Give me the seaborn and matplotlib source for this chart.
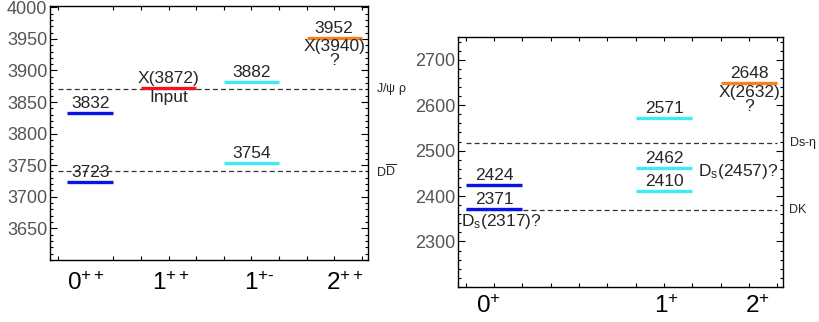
import matplotlib
matplotlib.use("Agg")
import matplotlib.pyplot as plt
from matplotlib.ticker import MultipleLocator
import seaborn as sns

# ---- data ----
# charmonium-like sector (left)
left_cats = ["0++", "1++", "1+-", "2++"]
left_cat_labels = [r"$0^{++}$", r"$1^{++}$", r"$1^{+\text{-}}$", r"$2^{++}$"]
left_jpc = ["0++", "0++", "1++", "1+-", "1+-", "2++"]
left_masses = [3723, 3832, 3872, 3754, 3882, 3952]
left_colors = ["#0a14e6", "#0a14e6", "#f0141e", "#40eaf5", "#40eaf5", "#f5821e"]
left_below = ["", "", "Input", "", "", "X(3940)\n?"]
left_above = ["3723", "3832", "X(3872)", "3754", "3882", "3952"]
left_thr = [3870, 3740]
left_thr_labels = [r"J/$\psi$ $\rho$", r"D$\overline{\mathrm{D}}$"]

# Ds sector (right)
right_cats = ["0+", "1+", "2+"]
right_cat_labels = [r"$0^{+}$", r"$1^{+}$", r"$2^{+}$"]
right_jp = ["0+", "0+", "1+", "1+", "1+", "2+"]
right_masses = [2371, 2424, 2410, 2462, 2571, 2648]
right_colors = ["#0a14e6", "#0a14e6", "#40eaf5", "#40eaf5", "#40eaf5", "#f5821e"]
right_above = ["2371", "2424", "2410", "2462", "2571", "2648"]
right_below = ["", "", "", "", "", "X(2632)\n?"]
right_thr = [2370, 2516]
right_thr_labels = ["DK", r"Ds-$\eta$"]

# ---- layout (x positions in tick units) ----
left_span = {"0++": (0.33, 2.0), "1++": (3, 5), "1+-": (6, 8), "2++": (9, 11)}
left_tick = [1.0, 4.1, 7.3, 10.4]
right_span = {"0+": (0, 2), "1+": (6, 8), "2+": (9, 11)}
right_tick = [0.8, 7.1, 10.3]

sns.set_theme(style="ticks")
plt.rcParams["font.family"] = ["Liberation Sans", "DejaVu Sans"]
plt.rcParams["mathtext.fontset"] = "custom"
plt.rcParams["mathtext.rm"] = "Liberation Sans"
plt.rcParams["mathtext.it"] = "Liberation Sans:italic"
plt.rcParams["mathtext.default"] = "rm"

LABEL_FS = 12.5

fig = plt.figure(figsize=(8.2, 3.22), dpi=100)
ax1 = fig.add_axes([0.061, 0.193, 0.388, 0.788])
ax2 = fig.add_axes([0.5585, 0.109, 0.3965, 0.776])


def style_axes(ax, ylim, yminor, xlim, ticks, labels, labpad, ylabels):
    ax.yaxis.set_minor_locator(MultipleLocator(yminor))
    ax.set_yticks(ylabels)
    ax.set_ylim(*ylim)
    ax.set_xlim(*xlim)
    ax.set_xticks(ticks)
    ax.set_xticklabels(labels, fontsize=17.5, color="black")
    ax.xaxis.set_minor_locator(MultipleLocator(1))
    ax.tick_params(axis="x", which="major", length=0, pad=labpad)
    ax.tick_params(axis="x", which="minor", direction="in", length=3,
                   top=True, bottom=True, width=0.8, color="black")
    ax.tick_params(axis="y", which="major", direction="in", length=5,
                   left=True, right=True, labelsize=13, labelcolor="#555555",
                   width=0.8, color="black", pad=2)
    ax.tick_params(axis="y", which="minor", direction="in", length=2.5,
                   left=True, right=True, width=0.8, color="black")
    for s in ax.spines.values():
        s.set_color("black")
        s.set_linewidth(1.0)


def draw_levels(ax, cats, masses, colors, above, below, span):
    for c, m, col, a, b in zip(cats, masses, colors, above, below):
        x0, x1 = span[c]
        ax.hlines(m, x0, x1, colors=col, linewidth=2.4, zorder=3)
        xc = (x0 + x1) / 2
        if a:
            ax.annotate(a, (xc, m), xytext=(0, 1.5), textcoords="offset points",
                        ha="center", va="bottom", fontsize=LABEL_FS, zorder=4)
        if b:
            ax.annotate(b, (xc, m), xytext=(0, -1), textcoords="offset points",
                        ha="center", va="top", fontsize=LABEL_FS, zorder=4,
                        linespacing=0.9)


def draw_thresholds(ax, thr, labels, x0, x1, xlab):
    for t, lab in zip(thr, labels):
        ax.hlines(t, x0, x1, colors="#333333", linestyles=(0, (4, 2.5)),
                  linewidth=0.9, zorder=2)
        ax.text(xlab, t, lab, ha="left", va="center", fontsize=9,
                clip_on=False)


# left panel
style_axes(ax1, (3600, 4002), 10, (-0.29, 11.23), left_tick, left_cat_labels,
           9, list(range(3650, 4001, 50)))
draw_thresholds(ax1, left_thr, left_thr_labels, 0, 11, 11.5)
draw_levels(ax1, left_jpc, left_masses, left_colors, left_above, left_below, left_span)

# right panel
style_axes(ax2, (2200, 2750), 20, (-0.27, 11.2), right_tick, right_cat_labels,
           6, list(range(2300, 2701, 100)))
draw_thresholds(ax2, right_thr, right_thr_labels, 0, 11, 11.4)
draw_levels(ax2, right_jp, right_masses, right_colors, right_above, right_below, right_span)
ax2.annotate(r"D$_{\mathrm{s}}$(2317)?", (-0.15, right_masses[0]), xytext=(0, -2),
             textcoords="offset points", ha="left", va="top", fontsize=LABEL_FS)
ax2.annotate(r"D$_{\mathrm{s}}$(2457)?", (8.2, 2455), ha="left", va="center",
             fontsize=LABEL_FS)

fig.savefig("out.png", dpi=100)
